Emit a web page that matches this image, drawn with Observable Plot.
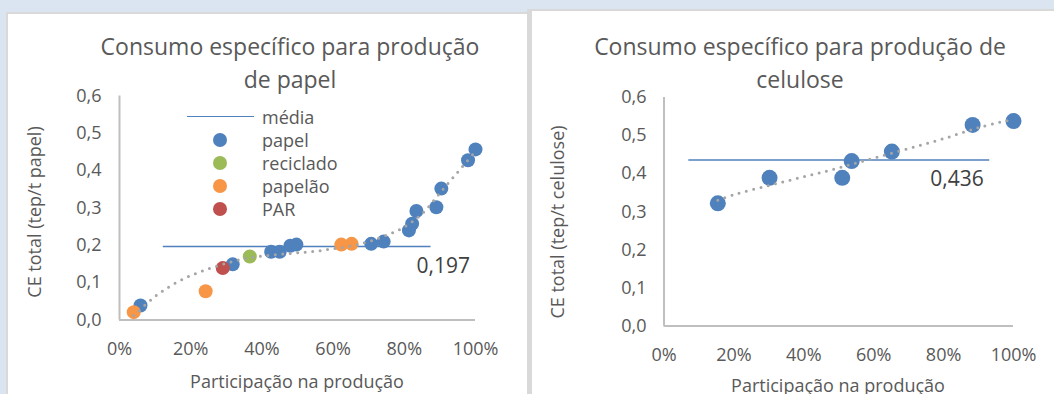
<!DOCTYPE html>
<html><head><meta charset="utf-8">
<script src="https://cdn.jsdelivr.net/npm/d3@7"></script>
<script src="https://cdn.jsdelivr.net/npm/@observablehq/plot@0.6"></script>
<style>
html,body{margin:0;padding:0}
body{width:1054px;height:394px;background:#dbe5f1;position:relative;overflow:hidden;font-family:"Open Sans",sans-serif;color:#595959}
.panel{position:absolute;background:#fff;box-sizing:border-box}
.abs{position:absolute;white-space:nowrap}
.title{font-size:23px;line-height:33px;text-align:center}
.axt{font-size:18px;line-height:24px}
.leg{font-size:18px;line-height:22px}
.sw{position:absolute;width:14px;height:14px;border-radius:50%}
</style></head><body>
<div class="panel" style="left:6px;top:12px;width:521px;height:382px;border-left:2px solid #d9d9d9;border-top:2px solid #d9d9d9"></div>
<div class="panel" style="left:527px;top:9px;width:527px;height:385px;border-left:5px solid #d9d9d9;border-top:2px solid #d9d9d9"></div>
<div id="c1" class="abs" style="left:8px;top:14px;width:519px;height:380px"></div>
<div id="c2" class="abs" style="left:532px;top:10px;width:522px;height:384px"></div>

<div class="abs title" style="left:90px;top:29.6px;width:400px">Consumo específico para produção<br>de papel</div>
<div class="abs title" style="left:560px;top:29.6px;width:480px">Consumo específico para produção de<br>celulose</div>

<div class="abs axt" style="left:34px;top:212px;transform:translate(-50%,-50%) rotate(-90deg)">CE total (tep/t papel)</div>
<div class="abs axt" style="left:557px;top:222px;transform:translate(-50%,-50%) rotate(-90deg)">CE total (tep/t celulose)</div>
<div class="abs axt" style="left:297px;top:369px;transform:translateX(-50%)">Participação na produção</div>
<div class="abs axt" style="left:838px;top:373px;transform:translateX(-50%)">Participação na produção</div>

<div id="legend"></div>

<script>
// ---- data: papel chart ----
const leftShare = [4.0, 5.9, 24.2, 29.0, 31.8, 36.6, 42.6, 45.0, 48.0, 49.7, 62.3, 65.2, 70.7, 74.2, 81.3, 82.2, 83.4, 89.0, 90.4, 97.9, 100];
const leftCE    = [0.021, 0.039, 0.077, 0.139, 0.149, 0.170, 0.183, 0.183, 0.199, 0.202, 0.202, 0.204, 0.204, 0.210, 0.240, 0.258, 0.292, 0.302, 0.352, 0.428, 0.457];
const leftType  = ["papelão","papel","papelão","PAR","papel","reciclado","papel","papel","papel","papel","papelão","papelão","papel","papel","papel","papel","papel","papel","papel","papel","papel"];
const leftTrendX = [4, 10, 15, 20, 25, 30, 35, 40, 45, 50, 55, 60, 65, 70, 75, 80, 85, 90, 95, 100];
const leftTrendY = [0.012, 0.063, 0.095, 0.119, 0.137, 0.152, 0.164, 0.171, 0.176, 0.180, 0.184, 0.191, 0.198, 0.210, 0.227, 0.249, 0.285, 0.340, 0.396, 0.452];
const leftMean = 0.197, leftMeanFrom = 12.3, leftMeanTo = 87.5, leftMeanLabel = "0,197";

// ---- data: celulose chart ----
const rightShare = [15.4, 30.2, 51.0, 53.7, 65.2, 88.3, 100];
const rightCE    = [0.322, 0.389, 0.389, 0.433, 0.458, 0.528, 0.538];
const rightTrendX = [15.4, 20, 30, 40, 50, 60, 70, 80, 90, 99];
const rightTrendY = [0.330, 0.345, 0.369, 0.392, 0.415, 0.441, 0.466, 0.492, 0.521, 0.541];
const rightMean = 0.436, rightMeanFrom = 7.1, rightMeanTo = 93.2, rightMeanLabel = "0,436";

// ---- categories / ticks ----
const types  = ["papel", "reciclado", "papelão", "PAR"];
const colors = ["#4f81bd", "#9bbb59", "#f79646", "#c0504d"];
const meanColor = "#4f81bd";
const xTicks = [0, 20, 40, 60, 80, 100];
const yTicks = [0, 0.1, 0.2, 0.3, 0.4, 0.5, 0.6];
const legendLabels = ["média", "papel", "reciclado", "papelão", "PAR"];

const fmtX = d => d + "%";
const fmtY = d => d.toFixed(1).replace(".", ",");

function makeChart(o) {
  const pts = o.share.map((s, i) => ({s, ce: o.ce[i], t: o.type ? o.type[i] : "papel"}));
  pts.sort((a, b) => types.indexOf(a.t) - types.indexOf(b.t));
  const trend = o.tx.map((x, i) => ({x, y: o.ty[i]}));
  const mean = [{x1: o.mFrom, x2: o.mTo, y: o.m, label: o.mLabel}];
  return Plot.plot({
    width: o.w, height: o.h,
    marginLeft: o.ml, marginRight: o.mr, marginTop: o.mt, marginBottom: o.mb,
    style: {fontFamily: "Open Sans", fontSize: "18px", color: "#595959", background: "transparent", overflow: "visible"},
    x: {domain: [0, 100]},
    y: {domain: [0, 0.6]},
    color: {domain: types, range: colors},
    marks: [
      Plot.axisY({ticks: yTicks, tickFormat: fmtY, tickSize: 0, tickPadding: o.padY, label: null, fontSize: 18}),
      Plot.axisX({ticks: xTicks, tickFormat: fmtX, tickSize: 0, tickPadding: o.padX, label: null, fontSize: 18}),
      Plot.ruleX([0], {stroke: "#bfbfbf", strokeWidth: 2}),
      Plot.ruleY([0], {stroke: "#bfbfbf", strokeWidth: 2}),
      Plot.ruleY(mean, {x1: "x1", x2: "x2", y: "y", stroke: meanColor, strokeWidth: 1.6}),
      Plot.dot(pts, {x: "s", y: "ce", fill: "t", r: o.r, stroke: null}),
      Plot.line(trend, {x: "x", y: "y", curve: "catmull-rom", stroke: "#a5a5a5", strokeWidth: 3, strokeDasharray: "0 7.5", strokeLinecap: "round"}),
      Plot.text(mean, {x: "x2", y: "y", text: "label", textAnchor: "end", dx: o.ldx, dy: o.ldy, fontSize: 21, fill: "#404040"})
    ]
  });
}

document.getElementById("c1").append(makeChart({
  w: 519, h: 380, ml: 111, mr: 52, mt: 81.5, mb: 74.5,
  share: leftShare, ce: leftCE, type: leftType, tx: leftTrendX, ty: leftTrendY,
  m: leftMean, mFrom: leftMeanFrom, mTo: leftMeanTo, mLabel: leftMeanLabel,
  r: 7, padY: 18, padX: 22, ldx: 39, ldy: 20
}));
document.getElementById("c2").append(makeChart({
  w: 522, h: 384, ml: 131.5, mr: 41, mt: 87, mb: 68.5,
  share: rightShare, ce: rightCE, type: null, tx: rightTrendX, ty: rightTrendY,
  m: rightMean, mFrom: rightMeanFrom, mTo: rightMeanTo, mLabel: rightMeanLabel,
  r: 8, padY: 17.5, padX: 22, ldx: -6, ldy: 19
}));

// ---- legend (papel chart) ----
const leg = document.getElementById("legend");
const rowY = [116.7, 140, 163, 186, 209];
legendLabels.forEach((lab, i) => {
  const cy = rowY[i];
  if (i === 0) {
    const ln = document.createElement("div");
    ln.className = "abs";
    Object.assign(ln.style, {left: "186.5px", top: (cy - 0.8) + "px", width: "67.5px", height: "1.6px", background: meanColor});
    leg.append(ln);
  } else {
    const sw = document.createElement("div");
    sw.className = "sw";
    Object.assign(sw.style, {left: (220 - 7) + "px", top: (cy - 7) + "px", background: colors[i - 1]});
    leg.append(sw);
  }
  const t = document.createElement("div");
  t.className = "abs leg";
  t.textContent = lab;
  Object.assign(t.style, {left: "262px", top: (cy - 11) + "px"});
  leg.append(t);
});
</script>
</body></html>
